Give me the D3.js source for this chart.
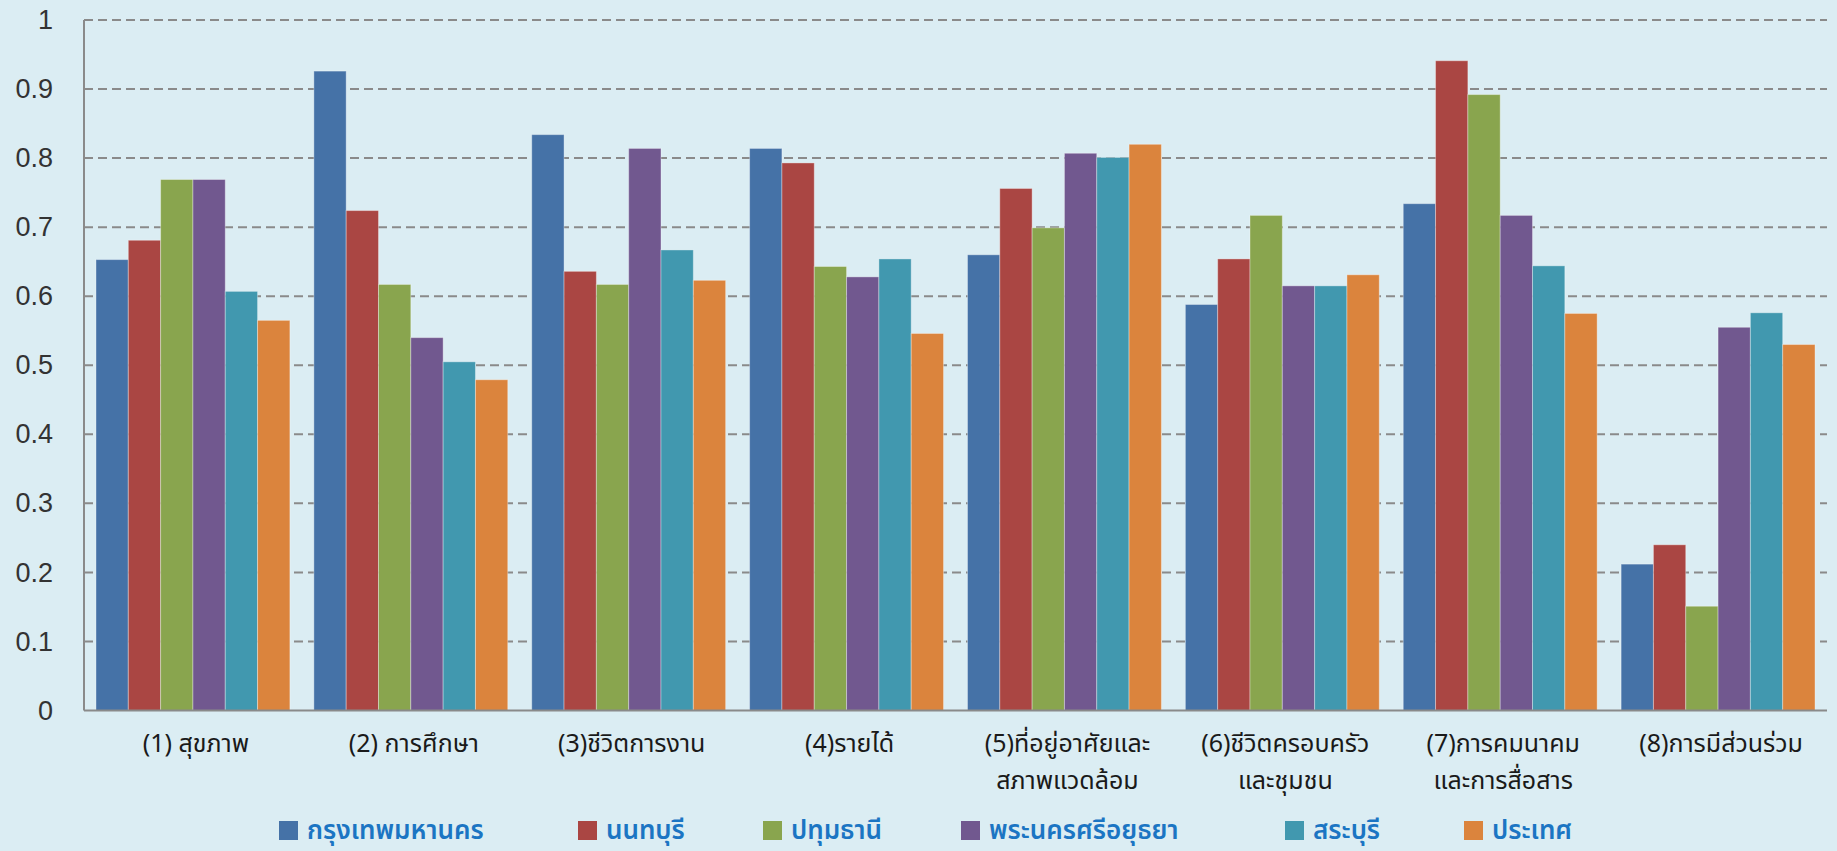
<!DOCTYPE html>
<html>
<head>
<meta charset="utf-8">
<script src="https://cdn.jsdelivr.net/npm/d3@7"></script>
<style>
  html, body { margin: 0; padding: 0; background: #dbedf3; }
  svg { display: block; }
</style>
</head>
<body>
<svg id="chart" width="1837" height="851"></svg>
<script>
// ---- data ----
const categories = [
  ["(1) สุขภาพ"],
  ["(2) การศึกษา"],
  ["(3)ชีวิตการงาน"],
  ["(4)รายได้"],
  ["(5)ที่อยู่อาศัยและ", "สภาพแวดล้อม"],
  ["(6)ชีวิตครอบครัว", "และชุมชน"],
  ["(7)การคมนาคม", "และการสื่อสาร"],
  ["(8)การมีส่วนร่วม"]
];
const seriesNames = ["กรุงเทพมหานคร", "นนทบุรี", "ปทุมธานี", "พระนครศรีอยุธยา", "สระบุรี", "ประเทศ"];
const bangkok    = [0.653, 0.926, 0.834, 0.814, 0.660, 0.588, 0.734, 0.212];
const nonthaburi = [0.681, 0.724, 0.636, 0.793, 0.756, 0.654, 0.941, 0.240];
const pathumThani= [0.769, 0.617, 0.617, 0.643, 0.699, 0.717, 0.892, 0.151];
const ayutthaya  = [0.769, 0.540, 0.814, 0.628, 0.807, 0.615, 0.717, 0.555];
const saraburi   = [0.607, 0.505, 0.667, 0.654, 0.801, 0.615, 0.644, 0.576];
const country    = [0.565, 0.479, 0.623, 0.546, 0.820, 0.631, 0.575, 0.530];
const seriesValues = [bangkok, nonthaburi, pathumThani, ayutthaya, saraburi, country];
const yTicks = [0, 0.1, 0.2, 0.3, 0.4, 0.5, 0.6, 0.7, 0.8, 0.9, 1];
const colors = ["#4572a7", "#aa4643", "#89a54e", "#71588f", "#4198af", "#db843d"];

// ---- layout ----
const svg = d3.select("#chart");
const plotLeft = 84, plotRight = 1827, plotTop = 20, plotBottom = 710.5;
const thaiFont = "'Noto Sans Thai', 'Noto Sans Thai UI', 'Noto Sans', 'DejaVu Sans', sans-serif";

const x0 = d3.scaleBand().domain(d3.range(categories.length)).range([plotLeft, plotRight]).padding(0);
const x1 = d3.scaleBand().domain(d3.range(seriesNames.length))
  .range([x0.bandwidth() * 0.055, x0.bandwidth() * 0.945]).padding(0);
const y = d3.scaleLinear().domain([0, 1]).range([plotBottom, plotTop]);

// y axis labels
const yAxis = d3.axisLeft(y).tickValues(yTicks).tickSize(0).tickPadding(31)
  .tickFormat(d => d === 0 ? "0" : d === 1 ? "1" : d3.format(".1f")(d));
const gy = svg.append("g").attr("transform", `translate(${plotLeft},0)`).call(yAxis);
gy.select(".domain").remove();
gy.selectAll("text").attr("font-family", "'Liberation Sans', sans-serif")
  .attr("font-size", 27).attr("fill", "#333");

// gridlines
svg.append("g").selectAll("line").data(yTicks.filter(d => d > 0)).join("line")
  .attr("x1", plotLeft).attr("x2", plotRight)
  .attr("y1", d => y(d)).attr("y2", d => y(d))
  .attr("stroke", "#8a8a8a").attr("stroke-width", 2).attr("stroke-dasharray", "9,5");

// bars
const groups = svg.append("g").selectAll("g").data(categories).join("g")
  .attr("transform", (d, i) => `translate(${x0(i)},0)`);
groups.selectAll("rect").data((d, i) => seriesValues.map((s, k) => ({k, v: s[i]}))).join("rect")
  .attr("x", d => x1(d.k)).attr("width", x1.bandwidth())
  .attr("y", d => y(d.v)).attr("height", d => y(0) - y(d.v))
  .attr("fill", d => colors[d.k])
  .attr("stroke", "rgba(255,255,255,0.35)").attr("stroke-width", 1);

// axis lines
svg.append("line").attr("x1", plotLeft).attr("x2", plotLeft).attr("y1", plotTop).attr("y2", plotBottom)
  .attr("stroke", "#8a8a8a").attr("stroke-width", 2);
svg.append("line").attr("x1", plotLeft).attr("x2", plotRight).attr("y1", plotBottom).attr("y2", plotBottom)
  .attr("stroke", "#8a8a8a").attr("stroke-width", 2);

// category labels
const labels = svg.append("g").selectAll("text").data(categories).join("text")
  .attr("x", (d, i) => x0(i) + x0.bandwidth() / 2 + 3)
  .attr("y", 752)
  .attr("text-anchor", "middle")
  .attr("font-family", thaiFont).attr("font-size", 25).attr("fill", "#1a1a1a");
labels.selectAll("tspan").data(d => d).join("tspan")
  .attr("x", function() { return d3.select(this.parentNode).attr("x"); })
  .attr("dy", (d, i) => i === 0 ? 0 : 37)
  .text(d => d);

// legend
const legendX = [279, 578, 763, 961, 1285, 1464];
const leg = svg.append("g").selectAll("g").data(seriesNames).join("g")
  .attr("transform", (d, i) => `translate(${legendX[i]},821)`);
leg.append("rect").attr("width", 19).attr("height", 19).attr("fill", (d, i) => colors[i]);
leg.append("text").attr("x", 28).attr("y", 18)
  .attr("font-family", thaiFont).attr("font-size", 26).attr("font-weight", 600)
  .attr("fill", "#1b75c3").text(d => d);
</script>
</body>
</html>
